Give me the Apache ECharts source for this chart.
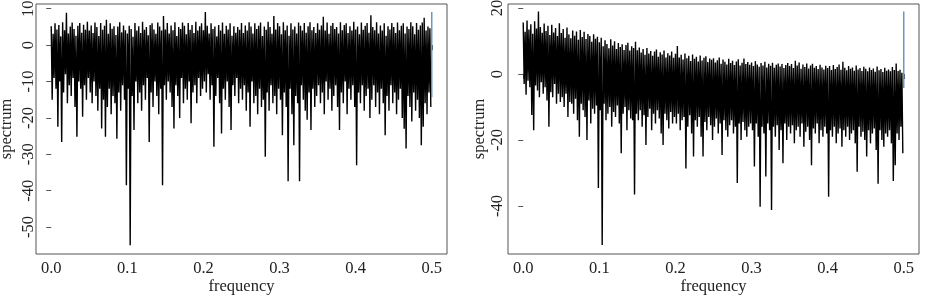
<!DOCTYPE html>
<html>
<head>
<meta charset="UTF-8">
<title>spectrum</title>
<script src="https://cdn.jsdelivr.net/npm/echarts@6/dist/echarts.min.js" type="text/javascript"></script>
<style>
  body { margin: 0; background: #fff; }
  #container { width: 926px; height: 296px; }
</style>
</head>
<body>
<div id="container"></div>
<script>
    // frequency step between successive pairs (peak, trough) of the periodogram
    var step = 0.0025;
    var xTicks = [0, 0.1, 0.2, 0.3, 0.4, 0.5];
    var yTicksL = [-50, -40, -30, -20, -10, 0, 10];
    var yTicksR = [-40, -20, 0, 20];

    // left panel: local peaks and troughs (dB)
    var hiL = [
        5.2, 3.1, 6.0, 4.3, 5.5, 2.4, 6.3, 4.1, 8.9, 3.2, 5.1, 6.2, 4.4, 2.6, 5.3, 6.1, 3.4, 5.6, 4.2, 6.4,
        4.0, 5.4, 3.3, 6.2, 5.0, 2.5, 6.1, 4.2, 5.3, 7.0, 3.1, 6.0, 4.5, 5.2, 2.8, 5.1, 6.3, 3.5, 5.4, 4.1,
        3.2, 5.3, 4.4, 2.3, 6.1, 4.0, 5.2, 3.3, 6.4, 4.2, 5.0, 2.7, 5.5, 6.0, 4.3, 3.1, 6.2, 5.1, 4.0, 8.0,
        4.3, 6.1, 3.2, 5.4, 4.1, 6.3, 2.5, 5.0, 4.4, 6.2, 5.3, 3.0, 6.1, 4.2, 5.5, 3.3, 6.4, 4.0, 5.2, 6.0,
        4.1, 9.1, 5.3, 3.2, 6.0, 4.4, 5.1, 2.4, 5.5, 4.0, 6.2, 3.1, 5.3, 4.3, 6.0, 2.6, 5.2, 3.4, 5.0, 4.2,
        6.1, 3.3, 5.4, 4.0, 6.3, 5.1, 3.2, 6.0, 4.4, 5.3, 6.2, 2.5, 5.1, 4.2, 6.4, 5.0, 3.1, 8.0, 4.3, 6.1,
        5.2, 3.0, 6.3, 4.1, 5.4, 2.6, 6.0, 4.3, 5.1, 3.2, 6.2, 5.3, 4.0, 6.1, 3.4, 5.2, 6.3, 4.1, 5.0, 3.3,
        6.0, 4.2, 5.4, 7.8, 4.0, 6.2, 3.1, 5.3, 6.1, 4.4, 5.0, 3.2, 6.3, 4.1, 5.5, 6.0, 3.3, 5.2, 4.0, 6.4,
        4.3, 5.1, 3.0, 6.2, 4.2, 5.3, 6.1, 3.4, 8.2, 5.0, 4.1, 6.3, 3.2, 5.4, 4.0, 6.0, 2.6, 5.2, 4.3, 6.1,
        5.0, 3.3, 6.2, 4.1, 5.3, 6.0, 3.2, 5.1, 4.4, 6.3, 5.2, 3.0, 6.1, 4.2, 5.4, 6.2, 7.5, 4.0, 5.1, 4.6
    ];
    var loL = [
        -15, -9, -12, -22.4, -10, -26.6, -13, -8, -16, -11, -14, -9, -17, -25.2, -10, -12, -19.7, -11, -15, -9,
        -13, -16, -10, -14, -18, -12, -22.9, -15, -25.2, -17, -12, -19, -14, -16, -25.7, -13, -18, -11, -15, -38.5,
        -12, -55, -14, -23.3, -10, -16, -13, -18, -11, -15, -9, -26.6, -13, -17, -10, -14, -19, -12, -38.5, -11,
        -15, -10, -13, -17, -22.9, -11, -14, -20, -9, -16, -12, -15, -10, -21.5, -13, -11, -16, -9, -14, -12,
        -10, -13, -8, -15, -11, -27.9, -14, -9, -16, -24.3, -12, -15, -10, -17, -23.3, -11, -14, -9, -16, -12,
        -15, -11, -18, -13, -22.4, -10, -16, -14, -19, -12, -17, -15, -30.7, -13, -18, -11, -16, -14, -19, -12,
        -15, -24.8, -13, -17, -37.4, -12, -19, -27.5, -14, -16, -37.4, -11, -15, -18, -20.5, -13, -23.3, -12, -17, -14,
        -11, -16, -13, -19, -10, -15, -12, -18, -14, -11, -17, -23.3, -13, -16, -10, -19, -12, -15, -11, -17,
        -33, -13, -16, -11, -18, -14, -12, -20, -15, -11, -17, -13, -19, -12, -16, -24.8, -14, -18, -11, -16,
        -13, -19, -15, -12, -20, -23, -28.4, -14, -17, -21, -13, -18, -15, -20, -27.5, -22.4, -16, -19, -13, -17
    ];
    var blueL = [-14.3, 9.1];

    // right panel
    var hiR = [
        15.6, 12.8, 16.2, 13.5, 15.1, 12.2, 16.0, 13.8, 18.9, 14.2, 12.5, 15.3, 13.0, 14.6, 11.8, 14.9, 12.6, 13.9, 11.5, 15.4,
        12.4, 13.6, 11.0, 14.1, 12.0, 10.8, 13.2, 11.6, 12.9, 10.4, 13.3, 11.2, 12.8, 10.6, 12.1, 11.5, 9.8, 12.0, 10.7, 11.3,
        9.6, 11.0, 8.4, 10.2, 9.1, 7.8, 10.5, 8.6, 9.9, 7.6, 9.4, 8.2, 9.0, 7.3, 8.8, 9.5, 7.1, 8.4, 7.9, 9.8,
        7.2, 8.0, 6.5, 7.6, 5.8, 7.9, 6.2, 7.0, 5.5, 6.8, 7.4, 5.2, 6.6, 5.9, 7.1, 5.0, 6.3, 5.6, 6.8, 4.9,
        6.1, 8.5, 5.0, 5.8, 4.4, 6.2, 4.8, 5.5, 3.9, 5.9, 4.6, 5.2, 3.8, 5.6, 4.1, 4.9, 5.4, 3.6, 4.7, 4.3,
        4.8, 3.5, 4.2, 5.0, 3.1, 4.4, 3.7, 2.9, 4.6, 3.3, 4.0, 2.7, 3.8, 4.5, 2.6, 3.4, 4.7, 3.0, 3.6, 2.8,
        3.5, 2.4, 3.9, 2.9, 2.2, 3.3, 2.6, 3.7, 2.0, 3.1, 2.5, 3.4, 1.9, 2.8, 3.2, 2.3, 3.0, 1.8, 2.7, 3.3,
        2.4, 3.0, 1.8, 4.0, 2.6, 3.5, 1.6, 2.9, 2.1, 3.2, 1.7, 2.6, 3.1, 1.9, 2.4, 1.5, 2.8, 2.0, 1.4, 2.5,
        1.8, 2.4, 1.2, 2.7, 1.5, 2.1, 2.9, 1.3, 3.7, 1.9, 1.1, 2.4, 1.6, 2.0, 1.0, 2.6, 1.4, 1.8, 0.9, 2.2,
        1.6, 0.8, 2.0, 1.2, 1.7, 0.7, 2.3, 1.1, 1.5, 0.6, 1.9, 1.0, 1.4, 0.8, 2.1, 1.2, 3.2, 0.9, 1.3, 0.4
    ];
    var loR = [
        -3, -6.3, -2, -4, -12.4, -17, -3.5, -5, -7, -2.5, -6, -4, -8, -16, -5.5, -7, -3, -9, -6, -8.5,
        -7, -10, -6, -13, -8.5, -9, -12, -7.5, -14, -19, -9, -11, -13, -20, -8, -15, -10.5, -12, -9.5, -34.5,
        -11, -51.8, -9, -14, -12, -10, -16, -11.5, -13, -9.5, -15, -24, -12, -10, -17, -11, -13.5, -14, -36.5, -12,
        -14, -11, -16, -12.5, -21.5, -13, -10.5, -17, -12, -15, -11, -13.5, -18, -21.5, -12, -14, -16.5, -11.5, -15, -13,
        -15, -12, -17, -14, -13, -28.6, -16, -12.5, -18, -25, -14, -16, -13, -19, -25, -14.5, -17, -13, -15.5, -20,
        -16, -13.5, -18, -15, -24.5, -14, -17, -19, -15.5, -14, -18, -16, -33, -15, -20, -14.5, -17, -19, -16, -15,
        -17, -28, -15, -19, -40.2, -16, -18, -31, -15, -17, -41.2, -16, -19, -15.5, -23, -17, -27, -15, -20, -16,
        -18, -15.5, -21, -17, -16, -19, -15, -22, -17.5, -16, -20, -27.6, -16.5, -18, -15, -21, -17, -19, -16, -18,
        -37.2, -17, -19, -16, -21, -18, -16.5, -22, -17, -19, -16, -20, -18, -17, -21, -29.6, -16, -19, -17.5, -20,
        -25, -17, -21, -18, -16.5, -23, -33.2, -17, -20, -22, -18, -19, -17, -21, -32.4, -27.6, -18, -20, -16, -24
    ];
    var blueR = [-4.2, 18.9];

    // peak, trough, peak, trough ... in frequency order
    function zigzag(hi, lo) {
        var d = [];
        for (var i = 0; i < hi.length; i++) {
            d.push([i * step, hi[i]]);
            d.push([i * step + step / 2, lo[i]]);
        }
        return d;
    }

    var font = 'Liberation Serif';
    var ink = '#222';
    var boxColor = '#555';

    function xAxisFor(idx) {
        return {
            type: 'value', gridIndex: idx, min: -0.02, max: 0.52,
            axisLine: { show: false },
            splitLine: { show: false },
            axisTick: { show: true, customValues: xTicks, length: 5, lineStyle: { color: boxColor } },
            axisLabel: {
                customValues: xTicks, fontSize: 16.5, fontFamily: font, color: ink, margin: 6,
                formatter: function (v) { return v.toFixed(1); }
            },
            name: 'frequency', nameLocation: 'middle', nameGap: 24, nameMoveOverlap: false,
            nameTextStyle: { fontSize: 16.5, fontFamily: font, color: ink }
        };
    }
    function yAxisFor(idx, lo, hi, ticks, labelMargin, nameGap) {
        return {
            type: 'value', gridIndex: idx, min: lo, max: hi,
            axisLine: { show: false },
            splitLine: { show: false },
            axisTick: { show: true, customValues: ticks, length: 5, lineStyle: { color: boxColor } },
            axisLabel: {
                customValues: ticks, fontSize: 16.5, fontFamily: font, color: ink, margin: labelMargin,
                rotate: 90, align: 'center', verticalAlign: 'bottom'
            },
            name: 'spectrum', nameLocation: 'middle', nameGap: nameGap, nameMoveOverlap: false,
            nameTextStyle: { fontSize: 16.5, fontFamily: font, color: ink }
        };
    }

    var mychart = echarts.init(document.getElementById('container'), null, { renderer: 'canvas' });
    var option = {
        animation: false,
        backgroundColor: '#fff',
        grid: [
            { left: 36, top: 4, width: 411, height: 250, show: true, borderColor: boxColor, borderWidth: 1, outerBoundsMode: 'none' },
            { left: 508, top: 4, width: 411, height: 250, show: true, borderColor: boxColor, borderWidth: 1, outerBoundsMode: 'none' }
        ],
        xAxis: [xAxisFor(0), xAxisFor(1)],
        yAxis: [yAxisFor(0, -57.4, 11.3, yTicksL, -1, 21), yAxisFor(1, -54.5, 21.2, yTicksR, 2, 20)],
        series: [
            {
                type: 'line', xAxisIndex: 0, yAxisIndex: 0, data: zigzag(hiL, loL),
                showSymbol: false, lineStyle: { color: '#000', width: 1.4 }
            },
            {
                type: 'line', xAxisIndex: 0, yAxisIndex: 0, data: [[0.5, blueL[0]], [0.5, blueL[1]]],
                showSymbol: false, lineStyle: { color: '#5a86c0', width: 1.3 }, z: 3
            },
            {
                type: 'line', xAxisIndex: 1, yAxisIndex: 1, data: zigzag(hiR, loR),
                showSymbol: false, lineStyle: { color: '#000', width: 1.4 }
            },
            {
                type: 'line', xAxisIndex: 1, yAxisIndex: 1, data: [[0.5, blueR[0]], [0.5, blueR[1]]],
                showSymbol: false, lineStyle: { color: '#5a86c0', width: 1.3 }, z: 3
            }
        ]
    };
    mychart.setOption(option);
</script>
</body>
</html>
